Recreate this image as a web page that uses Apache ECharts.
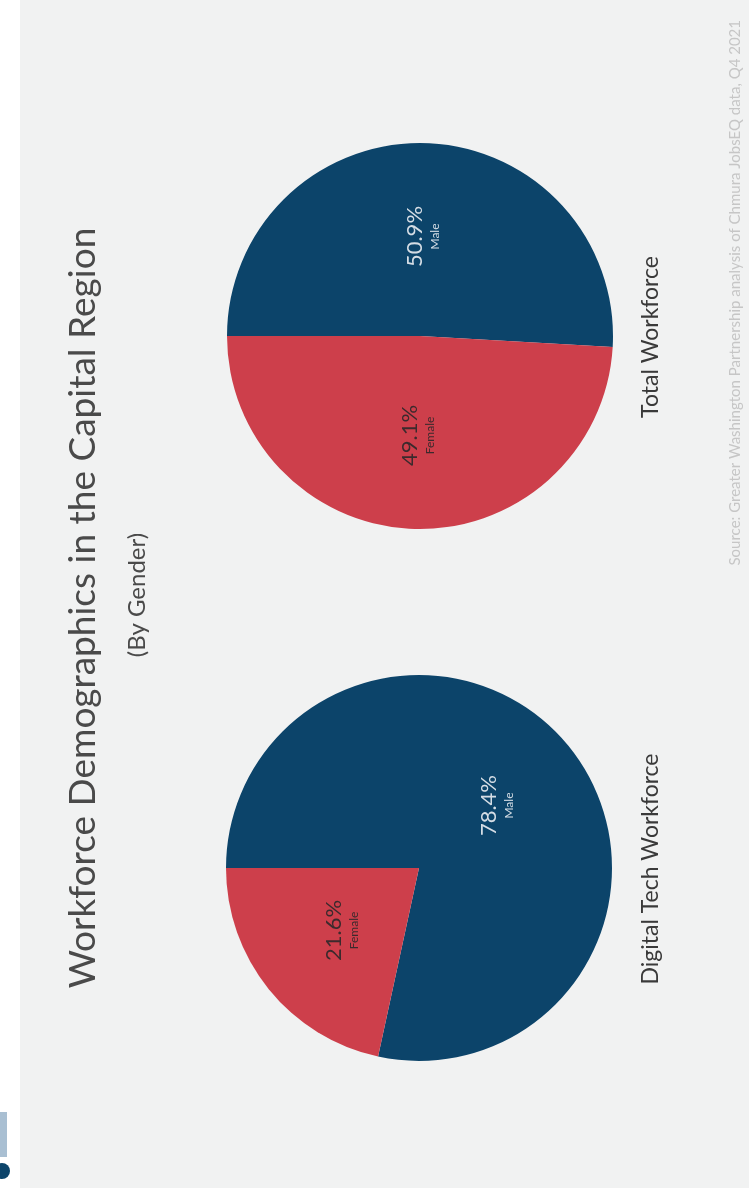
<!DOCTYPE html>
<html>
<head>
<meta charset="utf-8">
<script src="https://cdn.jsdelivr.net/npm/echarts@6/dist/echarts.min.js"></script>
<style>
html, body { margin: 0; padding: 0; background: #ffffff; }
#main { width: 749px; height: 1199px; }
</style>
</head>
<body>
<div id="main"></div>
<script>
// 数据
var categories = ['Male', 'Female'];
var totalValues = [50.9, 49.1];
var digitalValues = [78.4, 21.6];
var pieTitles = ['Total Workforce', 'Digital Tech Workforce'];
var colors = ['#0c446a', '#cd3f4b'];

var chartDom = document.getElementById('main');
var myChart = echarts.init(chartDom);
var option;

function makeData(values) {
    var arr = [];
    for (var i = 0; i < values.length; i++) {
        var txtColor = i == 0 ? '#d5dde5' : '#3b2a2d';
        arr.push({
            name: categories[i],
            value: values[i],
            itemStyle: { color: colors[i] },
            label: {
                rich: {
                    p: { fontSize: 22, fontFamily: 'Lato', color: txtColor, lineHeight: 25, align: 'center' },
                    n: { fontSize: 12, fontFamily: 'Lato', color: txtColor, lineHeight: 15, align: 'center' }
                }
            }
        });
    }
    return arr;
}

function makePie(center, values) {
    return {
        type: 'pie',
        center: center,
        radius: 193,
        startAngle: 180,
        clockwise: true,
        silent: true,
        animation: false,
        label: {
            show: true,
            position: 'inside',
            rotate: 90,
            formatter: function (p) {
                return '{p|' + p.value.toFixed(1) + '%}\n{n|' + p.name + '}';
            }
        },
        labelLine: { show: false },
        data: makeData(values)
    };
}

option = {
    backgroundColor: '#ffffff',
    graphic: [
        // 灰色底板
        { type: 'rect', z: -10, shape: { x: 20, y: 0, width: 729, height: 1188 }, style: { fill: '#f1f2f2' } },
        // 左下角的标志（被裁掉一部分）
        { type: 'circle', shape: { cx: 2, cy: 1171, r: 8 }, style: { fill: '#0c446a' } },
        { type: 'rect', shape: { x: 0, y: 1112, width: 7, height: 45 }, style: { fill: '#a9bfd2' } },
        // 标题
        { type: 'text', x: 83, y: 608, rotation: Math.PI / 2,
          style: { text: 'Workforce Demographics in the Capital Region', fontFamily: 'Lato', fontSize: 37, fill: '#4a4a4a', align: 'center', verticalAlign: 'middle' } },
        { type: 'text', x: 137, y: 595, rotation: Math.PI / 2,
          style: { text: '(By Gender)', fontFamily: 'Lato', fontSize: 24, fill: '#4a4a4a', align: 'center', verticalAlign: 'middle' } },
        // 饼图名称
        { type: 'text', x: 651, y: 337, rotation: Math.PI / 2,
          style: { text: pieTitles[0], fontFamily: 'Lato', fontSize: 23, fill: '#3a3a3a', align: 'center', verticalAlign: 'middle' } },
        { type: 'text', x: 651, y: 869, rotation: Math.PI / 2,
          style: { text: pieTitles[1], fontFamily: 'Lato', fontSize: 23, fill: '#3a3a3a', align: 'center', verticalAlign: 'middle' } },
        // 数据来源
        { type: 'text', x: 735, y: 20, rotation: Math.PI / 2,
          style: { text: 'Source: Greater Washington Partnership analysis of Chmura JobsEQ data, Q4 2021', fontFamily: 'Lato', fontSize: 15, fill: '#c6c6c6', align: 'right', verticalAlign: 'middle' } }
    ],
    series: [
        makePie([420, 336], totalValues),
        makePie([419, 868], digitalValues)
    ]
};
option && myChart.setOption(option);
</script>
</body>
</html>
